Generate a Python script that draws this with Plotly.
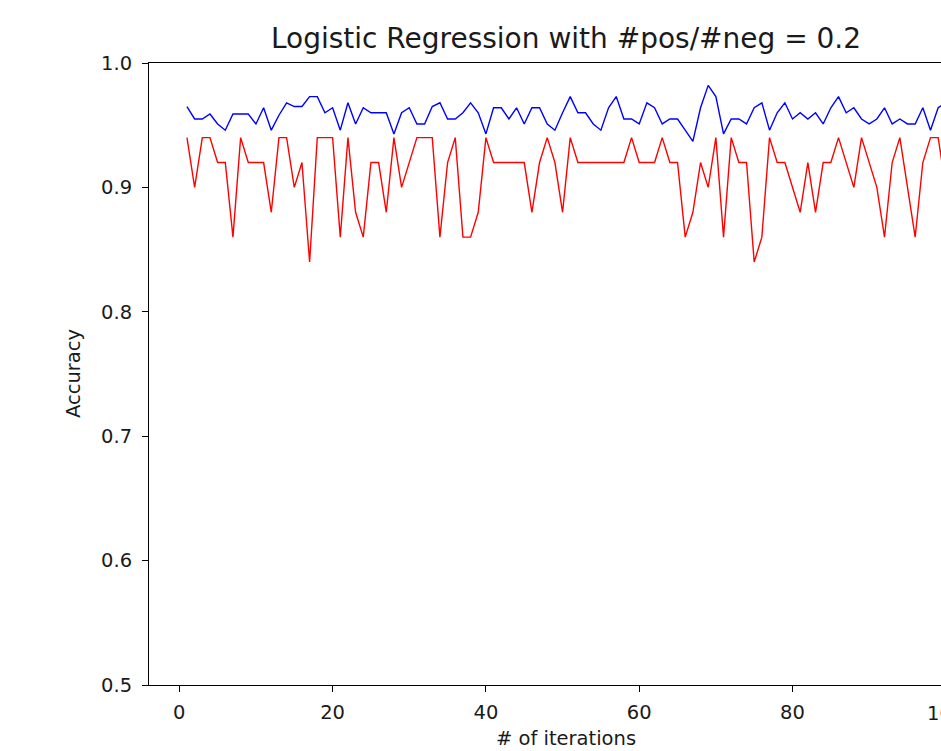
import plotly.graph_objects as go

iterations = list(range(1, 101))
train_acc = [0.965, 0.955, 0.955, 0.959, 0.951, 0.946, 0.959, 0.959, 0.959, 0.951,
             0.964, 0.946, 0.958, 0.968, 0.965, 0.965, 0.973, 0.973, 0.960, 0.964,
             0.946, 0.968, 0.951, 0.964, 0.960, 0.960, 0.960, 0.943, 0.960, 0.964,
             0.951, 0.951, 0.965, 0.968, 0.955, 0.955, 0.960, 0.968, 0.960, 0.943,
             0.964, 0.964, 0.955, 0.964, 0.951, 0.964, 0.964, 0.951, 0.946, 0.960,
             0.973, 0.960, 0.960, 0.951, 0.946, 0.964, 0.973, 0.955, 0.955, 0.951,
             0.968, 0.964, 0.951, 0.955, 0.955, 0.946, 0.937, 0.964, 0.982, 0.973,
             0.943, 0.955, 0.955, 0.951, 0.964, 0.968, 0.946, 0.960, 0.968, 0.955,
             0.960, 0.955, 0.960, 0.951, 0.964, 0.973, 0.960, 0.964, 0.955, 0.951,
             0.955, 0.964, 0.951, 0.955, 0.951, 0.951, 0.964, 0.946, 0.964, 0.968]
test_acc = [0.94, 0.90, 0.94, 0.94, 0.92, 0.92, 0.86, 0.94, 0.92, 0.92,
            0.92, 0.88, 0.94, 0.94, 0.90, 0.92, 0.84, 0.94, 0.94, 0.94,
            0.86, 0.94, 0.88, 0.86, 0.92, 0.92, 0.88, 0.94, 0.90, 0.92,
            0.94, 0.94, 0.94, 0.86, 0.92, 0.94, 0.86, 0.86, 0.88, 0.94,
            0.92, 0.92, 0.92, 0.92, 0.92, 0.88, 0.92, 0.94, 0.92, 0.88,
            0.94, 0.92, 0.92, 0.92, 0.92, 0.92, 0.92, 0.92, 0.94, 0.92,
            0.92, 0.92, 0.94, 0.92, 0.92, 0.86, 0.88, 0.92, 0.90, 0.94,
            0.86, 0.94, 0.92, 0.92, 0.84, 0.86, 0.94, 0.92, 0.92, 0.90,
            0.88, 0.92, 0.88, 0.92, 0.92, 0.94, 0.92, 0.90, 0.94, 0.92,
            0.90, 0.86, 0.92, 0.94, 0.90, 0.86, 0.92, 0.94, 0.94, 0.90]
x_ticks = [0, 20, 40, 60, 80]
y_ticks = [0.5, 0.6, 0.7, 0.8, 0.9, 1.0]

FONT = "DejaVu Sans"
TXT = "#1a1a1a"
x_range = [-3.953, 99.37]
y_range = [0.5, 1.0]

fig = go.Figure()
fig.add_trace(go.Scatter(x=iterations, y=train_acc, mode="lines",
                         line=dict(color="#0000ff", width=1.4), showlegend=False))
fig.add_trace(go.Scatter(x=iterations, y=test_acc, mode="lines",
                         line=dict(color="#ff0000", width=1.4), showlegend=False))

axis_common = dict(showgrid=False, zeroline=False, showline=True, linecolor="black",
                   linewidth=1.1, ticks="outside", ticklen=6, tickwidth=1.1,
                   tickcolor="black", tickfont=dict(family=FONT, size=19.5, color=TXT))

fig.update_xaxes(range=x_range, tickvals=x_ticks, mirror=True, ticklabelstandoff=4,
                 **axis_common)
fig.update_yaxes(range=y_range, tickvals=y_ticks, tickformat=".1f", mirror=False,
                 ticklabelstandoff=6, **axis_common)

frac100 = (100 - x_range[0]) / (x_range[1] - x_range[0])
annotations = [
    dict(text="100", xref="paper", yref="paper", x=frac100, y=0, yshift=-15,
         xanchor="center", yanchor="top", showarrow=False,
         font=dict(family=FONT, size=19.5, color=TXT)),
    dict(text="# of iterations", xref="paper", yref="paper",
         x=(566 - 149) / 792, y=-(738 - 685) / 622, xanchor="center", yanchor="middle",
         showarrow=False, font=dict(family=FONT, size=19.5, color=TXT)),
    dict(text="Accuracy", xref="paper", yref="paper", x=(73 - 149) / 792, y=0.5,
         xanchor="center", yanchor="middle", textangle=-90, showarrow=False,
         font=dict(family=FONT, size=19.5, color=TXT)),
]

fig.update_layout(
    width=941, height=751,
    margin=dict(l=149, r=0, t=63, b=66),
    paper_bgcolor="white", plot_bgcolor="white",
    title=dict(text="Logistic Regression with #pos/#neg = 0.2",
               x=(566 - 149) / 792, xref="paper", xanchor="center",
               y=1 - 38 / 751, yref="container", yanchor="middle",
               font=dict(family=FONT, size=28, color=TXT)),
    annotations=annotations,
)

fig.write_html("out.html")
